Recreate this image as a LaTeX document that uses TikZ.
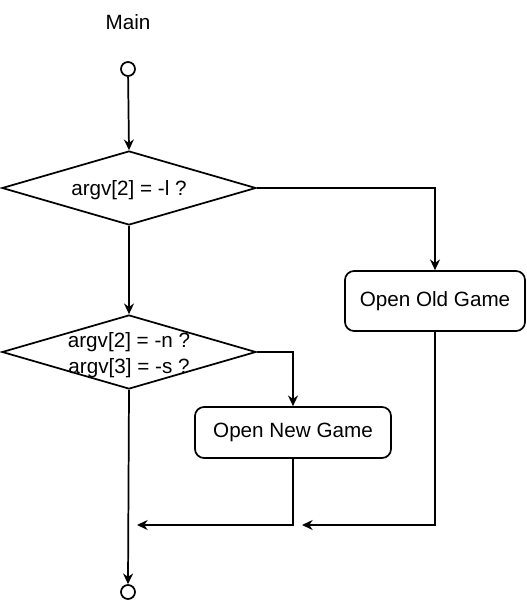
\documentclass[tikz,border=0pt]{standalone}
\usepackage{fontspec}
\setmainfont{Liberation Sans}
\usetikzlibrary{shapes.geometric,arrows.meta}
\begin{document}
\begin{tikzpicture}[x=0.75pt,y=-0.75pt,
  every node/.style={font=\fontsize{15.5}{19.5}\selectfont},
  line/.style={line width=1.3pt},
  arr/.style={line, -{Stealth[length=8pt,width=7.5pt,inset=2.6pt]}},
  dia/.style={draw, line width=1.3pt, diamond, minimum width=190.5pt, minimum height=55.5pt, inner sep=0pt},
  term/.style={draw, line width=1.3pt, circle, minimum size=10.5pt, inner sep=0pt},
  proc/.style={draw, line width=1.3pt, rounded corners=6.75pt, minimum width=#1, inner sep=0pt},
  lbl/.style={align=center, inner sep=0pt}
]
\useasboundingbox (0,0) rectangle (527,602);
\node[lbl] (main) at (128,22) {Main};
\node[term] (s) at (128,69) {};
\node[dia] (d1) at (129,188) {};
\node[lbl, yshift=-1.5pt] (t1) at (d1.center) {argv[2] = -l ?};
\node[dia] (d2) at (129,352) {};
\node[lbl, yshift=-2.5pt] (t2) at (d2.center) {argv[2] = -n ?\\argv[3] = -s ?};
\node[proc=135pt, minimum height=45pt] (old) at (435,301) {\raisebox{-1.5pt}{Open Old Game}};
\node[proc=147pt, minimum height=38.25pt] (new) at (293,432.5) {\raisebox{-1.5pt}{Open New Game}};
\node[term] (e) at (128,592) {};
\coordinate (j1) at (137,525);
\coordinate (j2) at (302,525);
\draw[arr] (s) -- (d1.north);
\draw[arr] (d1.east) -| (old.north);
\draw[arr] (d1.south) -- (d2.north);
\draw[arr] (d2.east) -| (new.north);
\draw[arr] (new.south) |- (j1);
\draw[arr] (old.south) |- (j2);
\draw[arr] (d2.south) -- (e.north);
\end{tikzpicture}
\end{document}
